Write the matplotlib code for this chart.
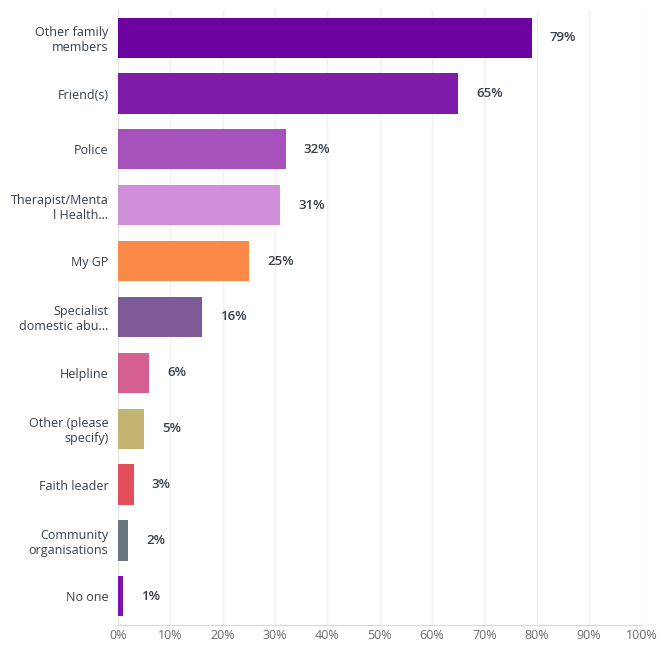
import matplotlib.pyplot as plt

# who people told, share of respondents (%)
categories = ["Other family\nmembers", "Friend(s)", "Police", "Therapist/Menta\nl Health...",
              "My GP", "Specialist\ndomestic abu...", "Helpline", "Other (please\nspecify)",
              "Faith leader", "Community\norganisations", "No one"]
values = [79, 65, 32, 31, 25, 16, 6, 5, 3, 2, 1]
colors = ["#6c03a0", "#801aa9", "#a651bc", "#cf8fd9", "#fa8a46", "#7e5b97",
          "#d45f90", "#c4b474", "#e24e5a", "#6b7680", "#7a12b0"]
ticks = list(range(0, 101, 10))

plt.rcParams['font.family'] = ['Open Sans', 'DejaVu Sans']

fig = plt.figure(figsize=(6.61, 6.48), dpi=100)
ax = fig.add_axes([0.1785, 0.035, 0.792, 0.95])

y = list(range(len(categories)))
ax.barh(y, values, height=0.72, color=colors, zorder=3)

for yi, v in zip(y, values):
    ax.annotate(f"{v}%", xy=(v, yi), xytext=(13, 0), textcoords="offset points",
                va="center", ha="left", fontsize=9.5, fontweight="semibold", color="#333e48")

ax.set_xlim(0, 100)
ax.set_ylim(len(categories) - 0.48, -0.5)
ax.set_xticks(ticks)
ax.set_xticklabels([f"{t}%" for t in ticks], fontsize=9, color="#6b6b6b")
ax.set_yticks(y)
ax.set_yticklabels(categories, fontsize=9, color="#333e48", multialignment="right")
ax.tick_params(axis="both", length=0)
ax.tick_params(axis="x", pad=3)
ax.tick_params(axis="y", pad=7)

ax.grid(axis="x", color="#f0f0f0", linewidth=1, zorder=0)
for side in ["top", "right"]:
    ax.spines[side].set_visible(False)
ax.spines["left"].set_color("#e2e2e2")
ax.spines["bottom"].set_color("#ddd3e3")

fig.savefig("out.png", dpi=100)
